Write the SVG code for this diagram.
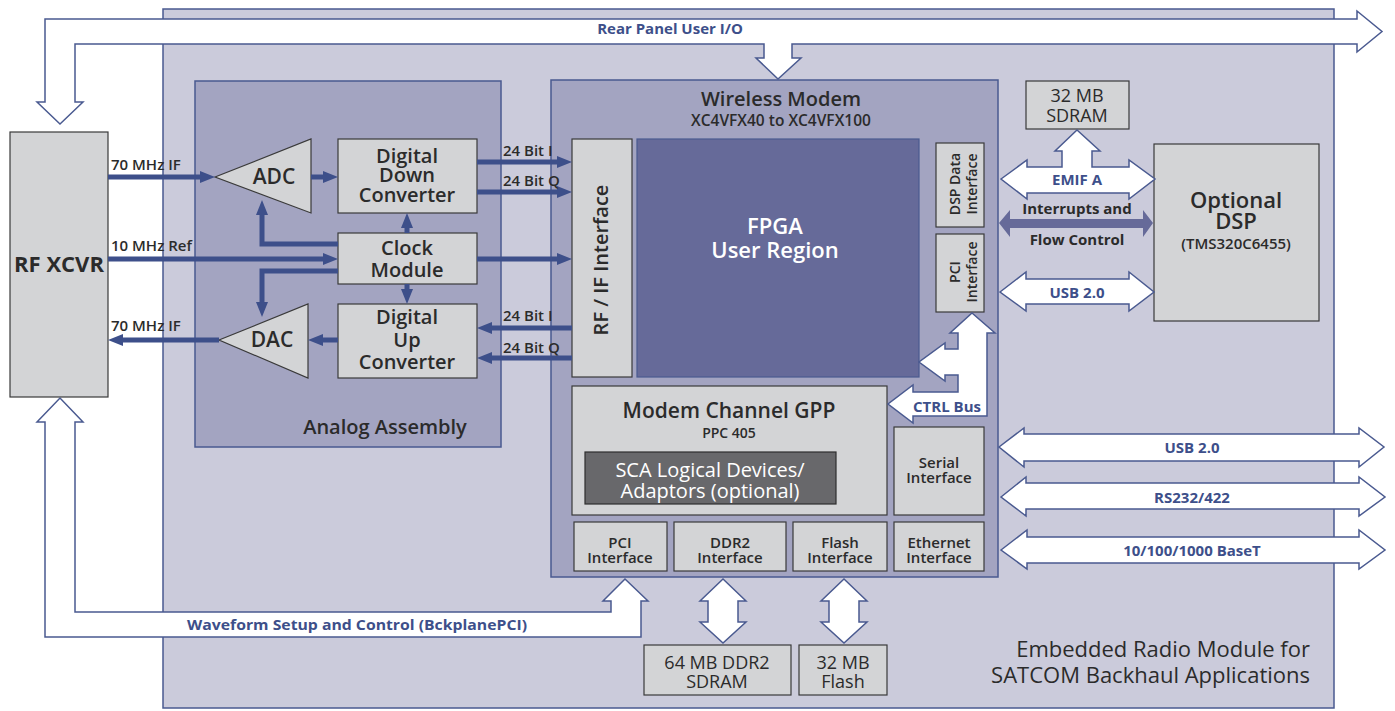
<svg xmlns="http://www.w3.org/2000/svg" width="1395" height="711" viewBox="0 0 1395 711">
<style>
.mod{fill:#cbcbdb;stroke:#4a5a90;stroke-width:1.5}
.sub{fill:#a3a4c1;stroke:#4a5a90;stroke-width:1.5}
.box{fill:#d3d4d6;stroke:#3a3a3a;stroke-width:1.2}
.fpga{fill:#666a99;stroke:#4a5a90;stroke-width:1.2}
.sca{fill:#68686b;stroke:#2e2e2e;stroke-width:1.2}
.wa{fill:#fff;stroke:#4a5a90;stroke-width:1.5;stroke-linejoin:miter}
.dk{fill:#666a99;stroke:none}
.ln{fill:none;stroke:#3d4f8a;stroke-width:5;marker-end:url(#a)}
.t{font-family:"Open Sans","Liberation Sans",sans-serif;fill:#2b2b2b;font-weight:600;text-anchor:middle}
.bl{fill:#3d4f8a;font-weight:700}
.w{fill:#fff}
</style>
<defs>
<marker id="a" viewBox="0 0 15 12" refX="4" refY="6" markerWidth="15" markerHeight="12" markerUnits="userSpaceOnUse" orient="auto">
<path d="M0,0 L15,6 L0,12 Z" fill="#3d4f8a"/>
</marker>
</defs>

<g id="module">
<rect class="mod" x="163" y="9" width="1171" height="699"/>
<text class="t" x="1310" y="657" font-size="22" style="text-anchor:end;font-weight:400">Embedded Radio Module for</text>
<text class="t" x="1310" y="683" font-size="22" style="text-anchor:end;font-weight:400">SATCOM Backhaul Applications</text>
</g>

<g id="rf-xcvr">
<rect class="box" x="10" y="132" width="98" height="265"/>
<text class="t" x="59" y="272" font-size="22" style="font-weight:700">RF XCVR</text>
</g>

<g id="analog-assembly">
<rect class="sub" x="195" y="81" width="306" height="366"/>
<text class="t" x="385" y="434" font-size="20">Analog Assembly</text>
</g>

<g id="adc">
<polygon class="box" points="215,177 311,139 311,213"/>
<text class="t" x="274" y="184" font-size="21">ADC</text>
</g>
<g id="ddc">
<rect class="box" x="338" y="139" width="139" height="74"/>
<text class="t" x="407" y="163" font-size="20">Digital</text>
<text class="t" x="407" y="182" font-size="20">Down</text>
<text class="t" x="407" y="202" font-size="20">Converter</text>
</g>
<g id="clock">
<rect class="box" x="338" y="233" width="139" height="51"/>
<text class="t" x="407" y="255" font-size="20">Clock</text>
<text class="t" x="407" y="277" font-size="20">Module</text>
</g>
<g id="duc">
<rect class="box" x="338" y="304" width="139" height="74"/>
<text class="t" x="407" y="324" font-size="20">Digital</text>
<text class="t" x="407" y="347" font-size="20">Up</text>
<text class="t" x="407" y="369" font-size="20">Converter</text>
</g>
<g id="dac">
<polygon class="box" points="219,340 308,304 308,378"/>
<text class="t" x="272" y="347" font-size="21">DAC</text>
</g>

<g id="wireless-modem">
<rect class="sub" x="551" y="80" width="447" height="497"/>
<text class="t" x="781" y="106" font-size="20">Wireless Modem</text>
<text class="t" x="781" y="126" font-size="15.5">XC4VFX40 to XC4VFX100</text>
</g>
<g id="rfif">
<rect class="box" x="572" y="139" width="60" height="238"/>
<text class="t" font-size="20" transform="translate(608,260) rotate(-90)">RF / IF Interface</text>
</g>
<g id="fpga">
<rect class="fpga" x="637" y="139" width="282" height="238"/>
<text class="t w" x="775" y="234" font-size="22">FPGA</text>
<text class="t w" x="775" y="258" font-size="22">User Region</text>
</g>
<g id="dsp-data-if">
<rect class="box" x="936" y="143" width="48" height="84"/>
<text class="t" font-size="14" transform="translate(960,184) rotate(-90)">DSP Data</text>
<text class="t" font-size="14" transform="translate(977,184) rotate(-90)">Interface</text>
</g>
<g id="pci-if-v">
<rect class="box" x="936" y="234" width="48" height="78"/>
<text class="t" font-size="14" transform="translate(960,272) rotate(-90)">PCI</text>
<text class="t" font-size="14" transform="translate(977,272) rotate(-90)">Interface</text>
</g>
<g id="gpp">
<rect class="box" x="572" y="386" width="315" height="129"/>
<text class="t" x="729" y="418" font-size="21">Modem Channel GPP</text>
<text class="t" x="729" y="438" font-size="14">PPC 405</text>
</g>
<g id="sca">
<rect class="sca" x="585" y="452" width="251" height="52"/>
<text class="t w" x="710" y="477" font-size="20" style="font-weight:500">SCA Logical Devices/</text>
<text class="t w" x="710" y="498" font-size="20" style="font-weight:500">Adaptors (optional)</text>
</g>
<g id="serial-if">
<rect class="box" x="894" y="427" width="90" height="88"/>
<text class="t" x="939" y="468" font-size="15">Serial</text>
<text class="t" x="939" y="483" font-size="15">Interface</text>
</g>
<g id="pci-if">
<rect class="box" x="574" y="522" width="93" height="49"/>
<text class="t" x="620" y="548" font-size="15">PCI</text>
<text class="t" x="620" y="563" font-size="15">Interface</text>
</g>
<g id="ddr2-if">
<rect class="box" x="674" y="522" width="112" height="49"/>
<text class="t" x="730" y="548" font-size="15">DDR2</text>
<text class="t" x="730" y="563" font-size="15">Interface</text>
</g>
<g id="flash-if">
<rect class="box" x="793" y="522" width="94" height="49"/>
<text class="t" x="840" y="548" font-size="15">Flash</text>
<text class="t" x="840" y="563" font-size="15">Interface</text>
</g>
<g id="eth-if">
<rect class="box" x="894" y="522" width="90" height="49"/>
<text class="t" x="939" y="548" font-size="15">Ethernet</text>
<text class="t" x="939" y="563" font-size="15">Interface</text>
</g>

<g id="sdram32">
<rect class="box" x="1026" y="81" width="103" height="48"/>
<text class="t" x="1077" y="102" font-size="18" style="font-weight:500">32 MB</text>
<text class="t" x="1077" y="122" font-size="18" style="font-weight:500">SDRAM</text>
</g>
<g id="dsp">
<rect class="box" x="1154" y="144" width="165" height="177"/>
<text class="t" x="1236" y="208" font-size="22">Optional</text>
<text class="t" x="1236" y="229" font-size="22">DSP</text>
<text class="t" x="1236" y="249" font-size="15">(TMS320C6455)</text>
</g>
<g id="ddr2-mem">
<rect class="box" x="644" y="645" width="147" height="50"/>
<text class="t" x="717" y="669" font-size="18" style="font-weight:500">64 MB DDR2</text>
<text class="t" x="717" y="688" font-size="18" style="font-weight:500">SDRAM</text>
</g>
<g id="flash-mem">
<rect class="box" x="799" y="645" width="88" height="50"/>
<text class="t" x="843" y="669" font-size="18" style="font-weight:500">32 MB</text>
<text class="t" x="843" y="688" font-size="18" style="font-weight:500">Flash</text>
</g>

<g id="connectors">
<path class="ln" d="M108,177 H204"/>
<path class="ln" d="M311,177 H327"/>
<path class="ln" d="M477,162 H561"/>
<path class="ln" d="M477,192 H561"/>
<path class="ln" d="M108,259 H327"/>
<path class="ln" d="M477,259 H561"/>
<path class="ln" d="M338,244 H262 V211"/>
<path class="ln" d="M338,271 H262 V306"/>
<path class="ln" d="M407,233 V224"/>
<path class="ln" d="M407,284 V293"/>
<path class="ln" d="M572,328 H488"/>
<path class="ln" d="M572,358 H488"/>
<path class="ln" d="M338,340 H319"/>
<path class="ln" d="M219,340 H119"/>
<g class="t" font-size="15">
<text x="111" y="170" style="text-anchor:start">70 MHz IF</text>
<text x="111" y="251" style="text-anchor:start">10 MHz Ref</text>
<text x="111" y="331" style="text-anchor:start">70 MHz IF</text>
<text x="503" y="156" style="text-anchor:start">24 Bit I</text>
<text x="503" y="186" style="text-anchor:start">24 Bit Q</text>
<text x="503" y="321" style="text-anchor:start">24 Bit I</text>
<text x="503" y="353" style="text-anchor:start">24 Bit Q</text>
</g>

<polygon class="wa" points="45,19 1357,19 1357,11 1382,31.5 1357,52 1357,44 792,44 792,58 801,58 778,79 756,58 764,58 764,44 75,44 75,102 83,102 60,124 37,102 45,102"/>
<text class="t bl" x="670" y="34" font-size="15">Rear Panel User I/O</text>

<polygon class="wa" points="45,637 641,637 641,601 648,601 625,579 603,601 611,601 611,612 75,612 75,422 83,422 60,398 37,422 45,422"/>
<text class="t bl" x="357" y="630" font-size="15" textLength="340" lengthAdjust="spacingAndGlyphs">Waveform Setup and Control (BckplanePCI)</text>

<polygon class="wa" points="972,313 995,333 987,333 987,416 913,416 913,423 888,404 913,385 913,392 958,392 958,375 945,375 945,381 919,362 945,343 945,349 958,349 958,333 950,333"/>
<text class="t bl" x="947" y="412" font-size="15">CTRL Bus</text>

<polygon class="wa" points="1001,179 1027,160 1027,167 1062,167 1062,151 1055,151 1077,130 1100,151 1092,151 1092,167 1129,167 1129,160 1155,179 1129,199 1129,193 1027,193 1027,199"/>
<text class="t bl" x="1077" y="185" font-size="15">EMIF A</text>

<polygon class="dk" points="999,223 1010,210 1010,219 1143,219 1143,210 1153,223 1143,237 1143,228 1010,228 1010,237"/>
<text class="t" x="1077" y="214" font-size="15" style="font-weight:700">Interrupts and</text>
<text class="t" x="1077" y="245" font-size="15" style="font-weight:700">Flow Control</text>

<polygon class="wa" points="1000,292 1026,272 1026,279 1129,279 1129,272 1154,292 1129,311 1129,304 1026,304 1026,311"/>
<text class="t bl" x="1077" y="298" font-size="15">USB 2.0</text>

<polygon class="wa" points="999,447 1024,428 1024,434 1359,434 1359,428 1384,447 1359,467 1359,461 1024,461 1024,467"/>
<text class="t bl" x="1192" y="453" font-size="15">USB 2.0</text>

<polygon class="wa" points="1001,497 1026,477 1026,483 1359,483 1359,477 1385,497 1359,516 1359,509 1026,509 1026,516"/>
<text class="t bl" x="1192" y="503" font-size="15">RS232/422</text>

<polygon class="wa" points="1001,550 1027,530 1027,537 1359,537 1359,530 1385,550 1359,569 1359,563 1027,563 1027,569"/>
<text class="t bl" x="1192" y="556" font-size="15">10/100/1000 BaseT</text>

<polygon class="wa" points="723,579 746,601 738,601 738,622 746,622 723,643 700,622 708,622 708,601 700,601"/>
<polygon class="wa" points="844,579 867,601 859,601 859,622 867,622 844,643 821,622 829,622 829,601 821,601"/>
</g>
</svg>
